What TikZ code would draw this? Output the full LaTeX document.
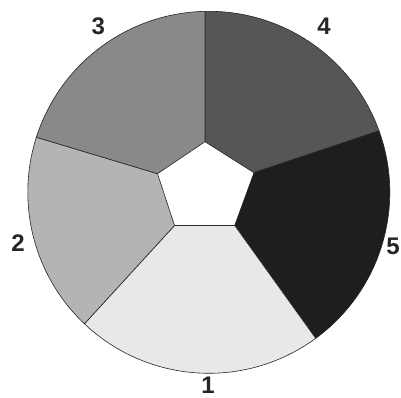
\documentclass[tikz,border=0pt]{standalone}
\usepackage{fontspec}
\setmainfont{Liberation Sans}
\usetikzlibrary{calc}
\definecolor{cone}{RGB}{232,232,232}
\definecolor{ctwo}{RGB}{180,180,180}
\definecolor{cthree}{RGB}{137,137,137}
\definecolor{cfour}{RGB}{86,86,86}
\definecolor{cfive}{RGB}{30,30,30}
\tikzset{
  sector/.style={draw=black!85, line width=0.6pt, line join=round},
  lbl/.style={font=\fontsize{24}{24}\selectfont\bfseries, text=black!85, inner sep=0pt}
}
\begin{document}
\begin{tikzpicture}[x=1pt,y=1pt]
\useasboundingbox (0,0) rectangle (401,398);
\fill[white] (0,0) rectangle (401,398);
\def\R{181}
\coordinate (O) at (208.8,205.7);
% inner pentagon vertices
\coordinate (pT) at (205,256.3);
\coordinate (pUR) at (254,225.3);
\coordinate (pLR) at (234.7,172.5);
\coordinate (pLL) at (174.5,172.5);
\coordinate (pUL) at (157.5,224.3);
% outer points
\coordinate (oT) at ($(O)+(91.2:\R)$);
\coordinate (oUR) at ($(O)+(19.85:\R)$);
\coordinate (oLR) at ($(O)+(-53.8:\R)$);
\coordinate (oLL) at ($(O)+(-133.4:\R)$);
\coordinate (oUL) at ($(O)+(162.3:\R)$);
% sectors
\filldraw[sector, fill=cfour] (pT) -- (oT) arc[start angle=91.2, end angle=19.85, radius=\R] -- (pUR) -- cycle;
\filldraw[sector, fill=cfive] (pUR) -- (oUR) arc[start angle=19.85, end angle=-53.8, radius=\R] -- (pLR) -- cycle;
\filldraw[sector, fill=cone] (pLR) -- (oLR) arc[start angle=-53.8, end angle=-133.4, radius=\R] -- (pLL) -- cycle;
\filldraw[sector, fill=ctwo] (pLL) -- (oLL) arc[start angle=-133.4, end angle=-197.7, radius=\R] -- (pUL) -- cycle;
\filldraw[sector, fill=cthree] (pUL) -- (oUL) arc[start angle=162.3, end angle=91.2, radius=\R] -- (pT) -- cycle;
% labels
\node[lbl] (l1) at (208,13) {1};
\node[lbl] (l2) at (18,155) {2};
\node[lbl] (l3) at (98.3,372.2) {3};
\node[lbl] (l4) at (324,372.2) {4};
\node[lbl] (l5) at (393,151.3) {5};
\end{tikzpicture}
\end{document}
